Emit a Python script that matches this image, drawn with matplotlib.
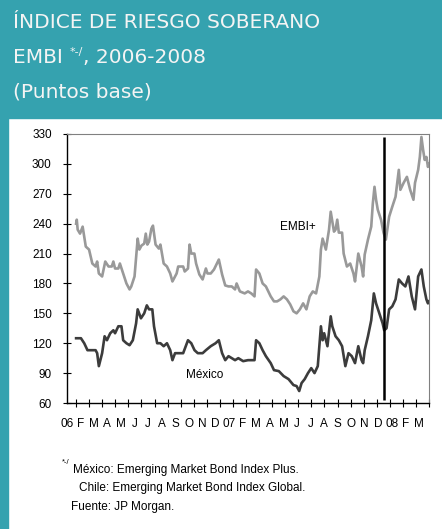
import matplotlib
matplotlib.use("Agg")
import matplotlib.pyplot as plt
import numpy as np

# months since 1 Jan 2006, basis points
embi_t = [0.0, 0.05, 0.12, 0.3, 0.5, 0.74, 0.99, 1.24, 1.49, 1.61, 1.74, 1.99,
          2.23, 2.48, 2.73, 2.85, 2.98, 3.23, 3.35, 3.6, 3.85, 4.09, 4.22, 4.47,
          4.71, 4.84, 5.0, 5.21, 5.33, 5.45, 5.58, 5.76, 5.88, 6.08, 6.33, 6.45,
          6.7, 6.95, 7.2, 7.37, 7.69, 7.81, 8.06, 8.19, 8.31, 8.56, 8.68, 8.81,
          9.05, 9.18, 9.43, 9.68, 9.93, 10.05, 10.3, 10.55, 10.92, 11.17, 11.41,
          11.66, 11.91, 12.16, 12.28, 12.53, 12.9, 13.15, 13.4, 13.65, 13.77,
          14.02, 14.27, 14.52, 14.89, 15.14, 15.38, 15.63, 15.88, 16.13, 16.38,
          16.63, 16.87, 17.12, 17.37, 17.62, 17.87, 18.11, 18.36, 18.61, 18.73,
          18.86, 19.11, 19.35, 19.48, 19.73, 19.85, 19.98, 20.1, 20.35, 20.47,
          20.72, 20.97, 21.22, 21.34, 21.59, 21.84, 21.96, 22.08, 22.33, 22.58,
          22.7, 22.83, 22.95, 23.08, 23.33, 23.52, 23.7, 23.95, 24.19, 24.44,
          24.69, 24.81, 25.06, 25.31, 25.56, 25.81, 25.93, 26.17, 26.3, 26.42,
          26.55, 26.67, 26.8, 26.92, 27.0]
embi_v = [240, 244, 234, 230, 237, 217, 214, 200, 197, 202, 190, 187,
          202, 197, 197, 202, 195, 195, 200, 190, 180, 174, 177, 187,
          225, 214, 218, 220, 230, 219, 222, 235, 238, 219, 215, 219,
          200, 197, 190, 182, 190, 197, 197, 197, 192, 195, 219, 210,
          210, 200, 189, 184, 195, 190, 190, 194, 204, 189, 178,
          177, 177, 174, 180, 172, 170, 172, 170, 167, 194,
          190, 180, 177, 167, 162, 162, 164, 167, 164, 159,
          152, 150, 154, 160, 154, 167, 172, 170, 187, 214,
          225, 214, 234, 252, 232, 234, 244, 231, 231, 210,
          197, 200, 190, 182, 210, 197, 187, 209, 224, 237,
          260, 277, 264, 254, 244, 231, 224, 247, 257, 267,
          294, 274, 281, 287, 274, 264, 281, 294, 307, 327,
          314, 304, 307, 297, 300]

mex_t = [0.0, 0.37, 0.62, 0.87, 1.49, 1.61, 1.74, 1.99, 2.18, 2.36, 2.61, 2.85,
         2.98, 3.23, 3.47, 3.6, 3.85, 4.09, 4.34, 4.59, 4.71, 4.96, 5.21, 5.41,
         5.58, 5.83, 5.96, 6.2, 6.45, 6.7, 6.95, 7.2, 7.37, 7.57, 8.19, 8.56,
         8.81, 9.06, 9.31, 9.68, 9.93, 10.3, 10.67, 10.92, 11.17, 11.41,
         11.66, 12.16, 12.41, 12.78, 13.15, 13.65, 13.77, 14.02, 14.27, 14.52,
         14.89, 15.14, 15.51, 15.88, 16.25, 16.63, 16.87, 17.07, 17.25, 17.49,
         17.74, 17.99, 18.24, 18.49, 18.73, 18.86, 18.98, 19.23, 19.48, 19.6,
         19.85, 20.1, 20.35, 20.6, 20.84, 21.09, 21.34, 21.59, 21.84, 21.96,
         22.08, 22.33, 22.58, 22.78, 22.95, 23.2, 23.45, 23.57, 23.75, 23.95,
         24.19, 24.44, 24.69, 24.94, 25.19, 25.43, 25.68, 25.93, 26.17, 26.42,
         26.6, 26.8, 26.92, 27.0]
mex_v = [125, 125, 120, 113, 113, 110, 97, 110, 127, 123, 130, 133,
         130, 137, 137, 123, 120, 118, 123, 140, 154, 145, 150, 158,
         154, 154, 137, 120, 120, 117, 120, 113, 103, 110, 110, 123,
         120, 113, 110, 110, 113, 117, 120, 123, 110, 103,
         107, 103, 105, 102, 103, 103, 123, 120, 113, 107,
         100, 93, 92, 87, 84, 78, 77, 72, 80, 84,
         90, 95, 90, 97, 137, 123, 130, 117, 147, 137,
         127, 123, 117, 97, 110, 107, 100, 117, 103, 100,
         113, 127, 143, 170, 160, 150, 140, 133, 135, 154,
         157, 164, 184, 180, 177, 187, 167, 154, 187, 194,
         177, 164, 160, 162]

# mid-December 2007 marker
corte = 23.52

mes_labels = ["06", "F", "M", "A", "M", "J", "J", "A", "S", "O", "N", "D",
              "07", "F", "M", "A", "M", "J", "J", "A", "S", "O", "N", "D",
              "08", "F", "M"]
y_ticks = [60, 90, 120, 150, 180, 210, 240, 270, 300, 330]

TEAL = "#35a2af"
FONT = "Liberation Sans"

fig = plt.figure(figsize=(4.42, 5.29), dpi=100)
fig.patch.set_facecolor("white")

# header band and left strip
fig.patches.append(plt.Rectangle((0, 1 - 118 / 529), 1, 118 / 529,
                                 transform=fig.transFigure, color=TEAL, zorder=0))
fig.patches.append(plt.Rectangle((0, 0), 8 / 442, 1,
                                 transform=fig.transFigure, color=TEAL, zorder=0))

tkw = dict(color="#f4f4f4", fontsize=14.5, family="DejaVu Sans", va="baseline")
fig.text(13 / 442, 1 - 28 / 529, "ÍNDICE DE RIESGO SOBERANO", **tkw)
t1 = fig.text(13 / 442, 1 - 63 / 529, "EMBI ", **tkw)
fig.text(13 / 442, 1 - 98 / 529, "(Puntos base)", **tkw)

fig.canvas.draw()
r = fig.canvas.get_renderer()
x1 = t1.get_window_extent(r).x1 / fig.bbox.width
t2 = fig.text(x1, 1 - 55 / 529, "*-/", color="#f4f4f4", fontsize=8,
              family="DejaVu Sans", va="baseline")
x2 = t2.get_window_extent(r).x1 / fig.bbox.width
fig.text(x2, 1 - 63 / 529, ", 2006-2008", **tkw)

ax = fig.add_axes([66.7 / 442, 1 - 403 / 529, (429 - 66.7) / 442, 269 / 529])
ax.plot(embi_t, embi_v, color="#999999", lw=1.9, solid_joinstyle="round")
ax.plot(mex_t, mex_v, color="#3c3c3c", lw=1.9, solid_joinstyle="round")
ax.vlines(corte, 63, 327, color="black", lw=1.8)

ax.set_xlim(0, 27)
ax.set_ylim(60, 330)
ax.set_yticks(y_ticks)
ax.set_yticklabels([str(v) for v in y_ticks], family=FONT, fontsize=8.5)
ax.set_xticks(np.arange(28))
ax.set_xticklabels([])
ax.set_xticks(np.linspace(-0.72, 26.23, len(mes_labels)), minor=True)
ax.set_xticklabels(mes_labels, minor=True, family=FONT, fontsize=8.5)
ax.tick_params(axis="both", which="major", direction="inout", length=5.5,
               width=0.8, color="black")
ax.tick_params(axis="y", pad=8)
ax.tick_params(axis="x", which="minor", length=0, pad=11)

for side in ("left", "bottom"):
    ax.spines[side].set_color("black")
    ax.spines[side].set_linewidth(1.0)
for side in ("top", "right"):
    ax.spines[side].set_color("#808080")
    ax.spines[side].set_linewidth(0.8)

ax.text(15.61, 237, "EMBI+", family=FONT, fontsize=8.5, ha="left", va="center")
ax.text(8.44, 88, "México", family=FONT, fontsize=8.5, ha="left", va="center")

fkw = dict(family=FONT, fontsize=8.5, va="center", color="black")
fig.text(62 / 442, 1 - 463 / 529, "*-/", family=FONT, fontsize=5.5,
         va="center", color="black")
fig.text(73 / 442, 1 - 470 / 529, "México: Emerging Market Bond Index Plus.", **fkw)
fig.text(79 / 442, 1 - 488 / 529, "Chile: Emerging Market Bond Index Global.", **fkw)
fig.text(71 / 442, 1 - 507 / 529, "Fuente: JP Morgan.", **fkw)

fig.savefig("out.png", dpi=100)
